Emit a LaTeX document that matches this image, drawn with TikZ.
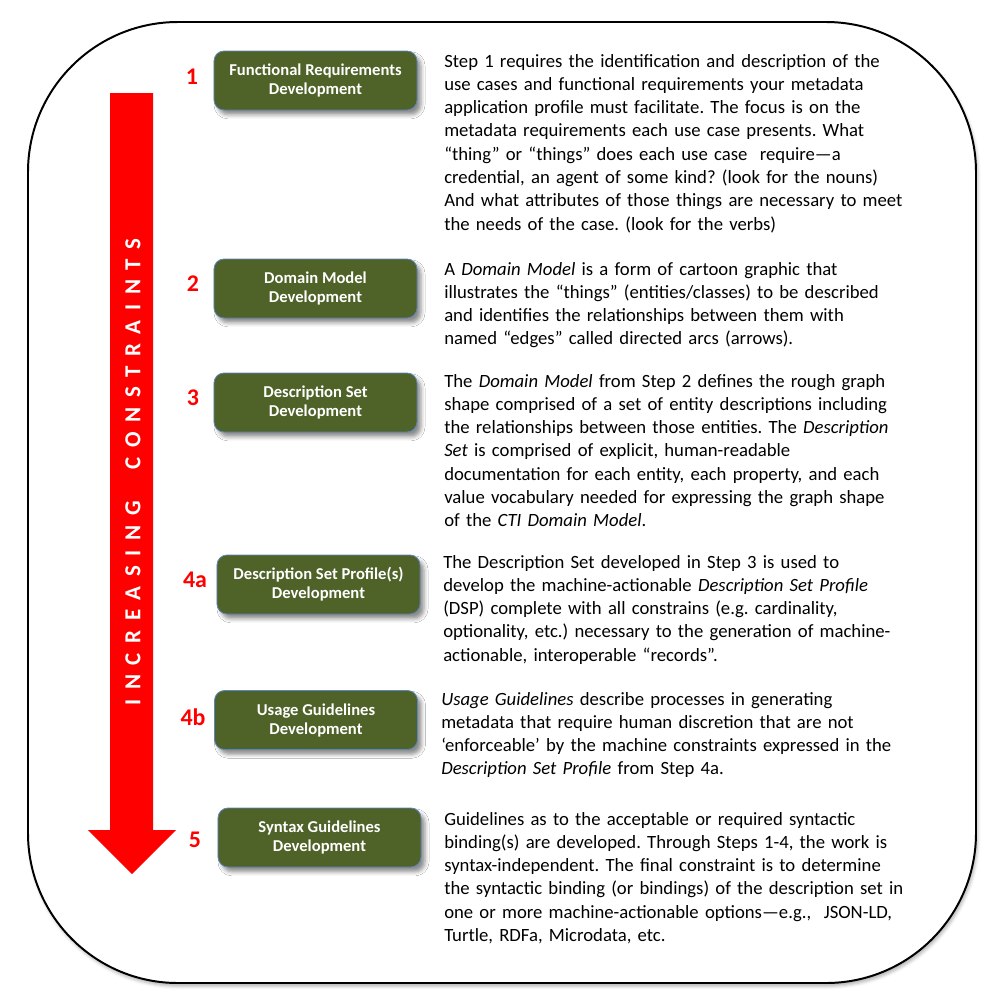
\documentclass[tikz,border=0pt]{standalone}
\usepackage{fontspec}
\setmainfont{Carlito}
\newfontfamily\spacedfont[LetterSpace=42]{Carlito}
\usetikzlibrary{shadows.blur}
\definecolor{boxgreen}{HTML}{4F6228}
\definecolor{boxedge}{HTML}{5B86C0}
\newcommand\bodyfont{\frenchspacing\fontsize{13.3pt}{16.57pt}\selectfont}
\newcommand\boxfont{\bfseries\fontsize{11.8pt}{13.5pt}\selectfont}
\newcommand\numfont{\bfseries\fontsize{17pt}{18pt}\selectfont}
\tikzset{
  stepbox/.style={
    draw=boxedge, line width=0.6pt, fill=boxgreen,
    rounded corners=2.5mm, minimum width=50.75mm, minimum height=14.75mm,
    text=white, font=\boxfont, align=center, inner sep=0pt,
    blur shadow={shadow xshift=1mm, shadow yshift=-1.2mm,
      shadow blur radius=1mm, shadow opacity=45}
  },
  steplabel/.style={text=red, font=\numfont, inner sep=0pt},
  stepnote/.style={font=\bodyfont, text width=125mm, align=left,
    inner sep=0pt, anchor=base west}
}

\begin{document}
\begin{tikzpicture}[x=0.25mm,y=-0.25mm]
  \useasboundingbox (0,0) rectangle (1000,1000);
  \draw[line width=1.4pt, fill=white, rounded corners=37.5mm,
    blur shadow={shadow xshift=0.4mm, shadow yshift=-0.8mm,
      shadow blur radius=0.8mm, shadow opacity=30}]
    (28,22) rectangle (976,983);

  \fill[red] (110,93) -- (153,93) -- (153,830) -- (176,830)
    -- (132,874) -- (88,830) -- (110,830) -- cycle;
  \node[rotate=90, text=white, inner sep=0pt] (incr) at (133,472)
    {\spacedfont\bfseries\fontsize{16.3pt}{18pt}\selectfont INCREASING\hspace{1.4em}CONSTRAINTS};

  \node[stepbox] (funreq) at (315.5,80.5) {Functional Requirements\\Development};
  \node[stepbox] (dommod) at (315.5,288.5) {Domain Model\\Development};
  \node[stepbox] (descset) at (315.5,402.5) {Description Set\\Development};
  \node[stepbox] (dsprof) at (318.5,584.5) {Description Set Profile(s)\\Development};
  \node[stepbox] (usage) at (316,720) {Usage Guidelines\\Development};
  \node[stepbox] (syntax) at (319.5,837.5) {Syntax Guidelines\\Development};

  \node[steplabel] (n1) at (192,77) {1};
  \node[steplabel] (n2) at (193,284) {2};
  \node[steplabel] (n3) at (193,398) {3};
  \node[steplabel] (n4a) at (195,580) {4a};
  \node[steplabel] (n4b) at (193,717) {4b};
  \node[steplabel] (n5) at (195,840) {5};

  \node[stepnote] (note1) at (444,67) {Step 1 requires the identification and description of the\\
    use cases and functional requirements your metadata\\
    application profile must facilitate. The focus is on the\\
    metadata requirements each use case presents. What\\
    “thing” or “things” does each use case\ \ require—a\\
    credential, an agent of some kind? (look for the nouns)\\
    And what attributes of those things are necessary to meet\\
    the needs of the case. (look for the verbs)};
  \node[stepnote] (note2) at (444,275) {A \textit{Domain Model} is a form of cartoon graphic that\\
    illustrates the “things” (entities/classes) to be described\\
    and identifies the relationships between them with\\
    named “edges” called directed arcs (arrows).};
  \node[stepnote] (note3) at (444,387) {The \textit{Domain Model} from Step 2 defines the rough graph\\
    shape comprised of a set of entity descriptions including\\
    the relationships between those entities. The \textit{Description}\\
    \textit{Set} is comprised of explicit, human-readable\\
    documentation for each entity, each property, and each\\
    value vocabulary needed for expressing the graph shape\\
    of the \textit{CTI Domain Model}.};
  \node[stepnote] (note4a) at (443,568) {The Description Set developed in Step 3 is used to\\
    develop the machine-actionable \textit{Description Set Profile}\\
    (DSP) complete with all constrains (e.g. cardinality,\\
    optionality, etc.) necessary to the generation of machine-\\
    actionable, interoperable “records”.};
  \node[stepnote] (note4b) at (441,705) {\textit{Usage Guidelines} describe processes in generating\\
    metadata that require human discretion that are not\\
    ‘enforceable’ by the machine constraints expressed in the\\
    \textit{Description Set Profile} from Step 4a.};
  \node[stepnote] (note5) at (444,825) {Guidelines as to the acceptable or required syntactic\\
    binding(s) are developed. Through Steps 1-4, the work is\\
    syntax-independent. The final constraint is to determine\\
    the syntactic binding (or bindings) of the description set in\\
    one or more machine-actionable options—e.g.,\ \ JSON-LD,\\
    Turtle, RDFa, Microdata, etc.};
\end{tikzpicture}
\end{document}
